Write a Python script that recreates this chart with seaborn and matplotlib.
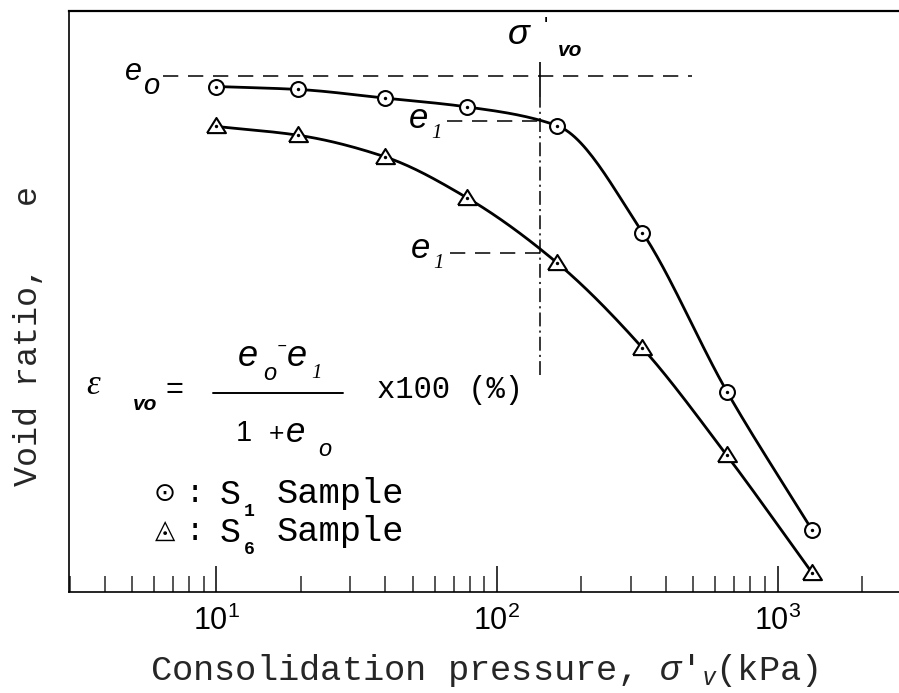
import numpy as np
import matplotlib
matplotlib.use('Agg')
import matplotlib.pyplot as plt
from matplotlib.lines import Line2D
from matplotlib.ticker import LogLocator, NullFormatter
import seaborn as sns

# Data (void ratio in arbitrary units)
pressure = [10, 19.5, 40, 78, 164, 330, 660, 1330]
void_s1 = [1.196, 1.192, 1.180, 1.168, 1.142, 0.995, 0.776, 0.585]
void_s6 = [1.141, 1.129, 1.099, 1.043, 0.953, 0.836, 0.688, 0.526]
e0 = 1.21
e1_s1 = 1.148
e1_s6 = 0.967
sigma_vo = 142
sigma_vo_span = [0.799, 1.230]
sigma_vo_solid_end = 1.182
e0_span = [6.44, 495]
e1_s1_start = 66.4
e1_s6_start = 67.9
major_ticks = [10, 100, 1000]
major_labels = [r'$10^{1}$', r'$10^{2}$', r'$10^{3}$']


def pchip(x, y, n=30):
    # smooth monotone curve through the measured points
    x = np.asarray(x, float)
    y = np.asarray(y, float)
    h = np.diff(x)
    delta = np.diff(y) / h
    d = np.zeros_like(y)
    d[0] = delta[0]
    d[-1] = delta[-1]
    for k in range(1, len(x) - 1):
        if delta[k - 1] * delta[k] > 0:
            w1 = 2 * h[k] + h[k - 1]
            w2 = h[k] + 2 * h[k - 1]
            d[k] = (w1 + w2) / (w1 / delta[k - 1] + w2 / delta[k])
    xs, ys = [], []
    t = np.linspace(0, 1, n)
    for k in range(len(h)):
        h00 = 2 * t**3 - 3 * t**2 + 1
        h10 = t**3 - 2 * t**2 + t
        h01 = -2 * t**3 + 3 * t**2
        h11 = t**3 - t**2
        ys.append(h00 * y[k] + h10 * h[k] * d[k] + h01 * y[k + 1] + h11 * h[k] * d[k + 1])
        xs.append(x[k] + t * h[k])
    return np.concatenate(xs), np.concatenate(ys)


sns.set_style('white')
plt.rcParams['font.family'] = ['Liberation Mono', 'DejaVu Sans']
plt.rcParams['mathtext.fontset'] = 'custom'
plt.rcParams['mathtext.rm'] = 'Liberation Sans'
plt.rcParams['mathtext.it'] = 'Liberation Sans:italic'
plt.rcParams['lines.scale_dashes'] = False

W, H = 899, 693
fig = plt.figure(figsize=(W / 100, H / 100), dpi=100)
ax = fig.add_axes([69 / W, 101 / H, 830 / W, 581 / H])
ax.set_xscale('log')

# curves
for vals in (void_s1, void_s6):
    lx, ly = pchip(np.log10(pressure), vals)
    sns.lineplot(x=10**lx, y=ly, sort=False, estimator=None, color='black', lw=2.0, ax=ax, zorder=2)

# markers
sns.scatterplot(x=pressure, y=void_s1, marker='o', s=115, color='white', edgecolor='black',
                linewidth=1.5, ax=ax, zorder=3)
tri = [(-1, -0.7), (1, -0.7), (0, 0.9), (-1, -0.7)]
sns.scatterplot(x=pressure, y=void_s6, marker=tri, s=185, color='white', edgecolor='black',
                linewidth=1.5, ax=ax, zorder=3)
sns.scatterplot(x=pressure + pressure, y=void_s1 + void_s6, marker='o', s=6, color='black',
                edgecolor='black', linewidth=0, ax=ax, zorder=4)

# guide lines
dash = (0, (11, 7))
ax.hlines(e0, e0_span[0], e0_span[1], color='black', lw=1.1, linestyle=dash, zorder=1)
ax.hlines(e1_s1, e1_s1_start, sigma_vo, color='black', lw=1.1, linestyle=dash, zorder=1)
ax.hlines(e1_s6, e1_s6_start, sigma_vo, color='black', lw=1.1, linestyle=dash, zorder=1)
ax.vlines(sigma_vo, sigma_vo_solid_end, sigma_vo_span[1], color='black', lw=1.2, zorder=1)
ax.vlines(sigma_vo, sigma_vo_span[0], sigma_vo_solid_end, color='black', lw=1.1,
          linestyle=(0, (10, 3, 1.5, 3)), zorder=1)

ax.set_xlim(2.98, 2710)
ax.set_ylim(0.50, 1.30)

# axes styling
for side in ('left', 'top', 'bottom'):
    ax.spines[side].set_visible(True)
    ax.spines[side].set_color('black')
    ax.spines[side].set_linewidth(1.2)
ax.spines['top'].set_linewidth(1.6)
ax.spines['right'].set_visible(False)
ax.set_yticks([])
ax.xaxis.set_minor_locator(LogLocator(base=10, subs=np.arange(2, 10)))
ax.xaxis.set_minor_formatter(NullFormatter())
ax.set_xticks(major_ticks)
ax.set_xticklabels(major_labels)
ax.tick_params(axis='x', which='major', direction='in', length=19, width=1.1, pad=10,
               labelsize=22, bottom=True, top=False, colors='black')
ax.tick_params(axis='x', which='minor', direction='in', length=11.5, width=1.1,
               bottom=True, top=False)

ax.set_xlabel("Consolidation pressure, $\\sigma$'$_{v}$(kPa)", fontsize=25.5, labelpad=11)
ax.set_ylabel('Void ratio,   e', fontsize=24, va='center')
ax.yaxis.set_label_coords(-40 / 830, (592 - 336) / 581)


def ptext(x, y, s, size, **kw):
    kw.setdefault('ha', 'center')
    kw.setdefault('va', 'center')
    fig.text(x / W, 1 - y / H, s, fontsize=size, color='black', **kw)


sans = 'Liberation Sans'
serif = 'Liberation Serif'

# e0 / e1 / sigma'vo labels
ptext(133, 72, 'e', 22, family=sans, style='italic')
ptext(151, 86, 'o', 21, family=sans, style='italic')
ptext(419, 118, 'e', 25, family=sans, style='italic')
ptext(437, 134, '1', 15, family=serif, style='italic')
ptext(421, 249, 'e', 25, family=sans, style='italic')
ptext(439, 264, '1', 15, family=serif, style='italic')
ptext(519, 35, 'σ', 26, family=sans, style='italic')
ptext(546, 26, "'", 16, family=sans)
ptext(570, 51, 'vo', 15, family=sans, style='italic', weight='bold')

# formula
ptext(93, 385, 'ε', 25, family=serif, style='italic')
ptext(145, 405, 'vo', 15, family=sans, style='italic', weight='bold')
ptext(174, 390, '=', 22, family=sans)
ptext(248, 357, 'e', 26, family=sans, style='italic')
ptext(270, 374, 'o', 17, family=sans, style='italic')
ptext(282, 355, '‾', 14, family=sans)
ptext(297, 357, 'e', 26, family=sans, style='italic')
ptext(316, 374, '1', 15, family=serif, style='italic')
fig.add_artist(Line2D([213 / W, 343 / W], [1 - 393 / H, 1 - 393 / H], color='black', lw=1.4))
ptext(244, 433, '1', 21, family=sans)
ptext(276, 434, '+', 19, family=sans)
ptext(296, 433, 'e', 25, family=sans, style='italic')
ptext(325, 449, 'o', 17, family=sans, style='italic')
ptext(377, 390, 'x100 (%)', 22, ha='left')

# legend
ptext(165, 494, '⊙', 19, family=['DejaVu Sans'])
ptext(195, 494, ':', 22)
ptext(230, 494, 'S', 25)
ptext(249, 511, '1', 13, weight='bold')
ptext(277, 494, 'Sample', 25.5, ha='left')
ptext(165, 532, '◬', 19, family=['DejaVu Sans'])
ptext(195, 532, ':', 22)
ptext(230, 532, 'S', 25)
ptext(249, 549, '6', 13, weight='bold')
ptext(277, 532, 'Sample', 25.5, ha='left')

fig.savefig('out.png', dpi=100, facecolor='white')
